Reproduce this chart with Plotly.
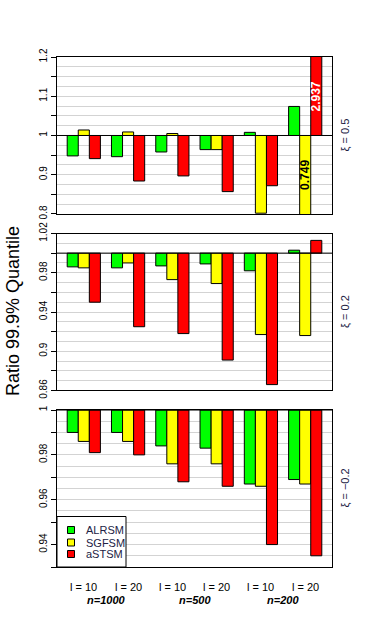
import plotly.graph_objects as go

# ---------------- data ----------------
n_labels = ["n=1000", "n=500", "n=200"]
l_labels = ["l = 10", "l = 20", "l = 10", "l = 20", "l = 10", "l = 20"]
methods = ["ALRSM", "SGFSM", "aSTSM"]
colors = ["#00FF00", "#FFFF00", "#FF0000"]

alrsm_05 = [0.948, 0.946, 0.958, 0.964, 1.008, 1.074]
sgfsm_05 = [1.014, 1.009, 1.005, 0.964, 0.802, 0.749]
astsm_05 = [0.941, 0.884, 0.897, 0.857, 0.872, 2.937]

alrsm_02 = [0.986, 0.985, 0.987, 0.989, 0.982, 1.003]
sgfsm_02 = [0.985, 0.990, 0.973, 0.969, 0.917, 0.916]
astsm_02 = [0.950, 0.925, 0.918, 0.891, 0.866, 1.013]

alrsm_m02 = [0.990, 0.990, 0.984, 0.983, 0.967, 0.969]
sgfsm_m02 = [0.986, 0.986, 0.976, 0.976, 0.966, 0.967]
astsm_m02 = [0.981, 0.980, 0.968, 0.966, 0.940, 0.935]

xi_labels = ["ξ = 0.5", "ξ = 0.2", "ξ = −0.2"]

# y ticks per panel
ticks_05 = [0.8, 0.85, 0.9, 0.95, 1.0, 1.05, 1.1, 1.15, 1.2]
ticktext_05 = ["0.8", "", "0.9", "", "1", "", "1.1", "", "1.2"]
ticks_02 = [0.86, 0.88, 0.9, 0.92, 0.94, 0.96, 0.98, 1.0, 1.02]
ticktext_02 = ["0.86", "", "0.9", "", "0.94", "", "0.98", "", "1.02"]
ticks_m02 = [0.93, 0.94, 0.95, 0.96, 0.97, 0.98, 0.99, 1.0]
ticktext_m02 = ["", "0.94", "", "0.96", "", "0.98", "", "1"]

panels = [
    dict(vals=[alrsm_05, sgfsm_05, astsm_05], rng=[0.8, 1.2], tv=ticks_05, tt=ticktext_05, minor=0.025, dom=[0.6922, 1.0]),
    dict(vals=[alrsm_02, sgfsm_02, astsm_02], rng=[0.86, 1.02], tv=ticks_02, tt=ticktext_02, minor=0.01, dom=[0.3461, 0.6539]),
    dict(vals=[alrsm_m02, sgfsm_m02, astsm_m02], rng=[0.93, 1.0], tv=ticks_m02, tt=ticktext_m02, minor=0.005, dom=[0.0, 0.3078]),
]

BASE = 1.0
xs = list(range(len(l_labels)))

W, H = 380, 625
ML, MR, MT, MB = 57, 48, 57, 58
PW, PH = W - ML - MR, H - MT - MB

def px(xp):  # page x pixel -> paper fraction
    return (xp - ML) / PW

def py(yp):  # page y pixel -> paper fraction
    return (H - MB - yp) / PH

fig = go.Figure()
layout = {}
annotations = []
shapes = []
FONT = "Liberation Sans, Arial, sans-serif"

for p, panel in enumerate(panels):
    sfx = "" if p == 0 else str(p + 1)
    xref = "x" + sfx
    yref = "y" + sfx
    for m, (name, col, vals) in enumerate(zip(methods, colors, panel["vals"])):
        fig.add_trace(go.Bar(
            x=xs, y=[v - BASE for v in vals], base=BASE,
            name=name, marker=dict(color=col, line=dict(color="black", width=1)),
            showlegend=False, legendgroup=name,
            xaxis=xref, yaxis=yref, offsetgroup=str(m),
        ))
    layout["xaxis" + sfx] = dict(
        domain=[0, 1], range=[-0.605, 5.605], anchor=yref,
        showgrid=False, zeroline=False, showticklabels=False, ticks="",
        showline=True, mirror=True, linecolor="black", linewidth=1,
    )
    layout["yaxis" + sfx] = dict(
        domain=panel["dom"], range=panel["rng"], anchor=xref,
        tickmode="array", tickvals=panel["tv"], ticktext=panel["tt"],
        tickangle=-90, ticks="outside", ticklen=5, tickcolor="black",
        tickfont=dict(size=10, color="black", family=FONT),
        showgrid=True, gridcolor="#d3d3d3", gridwidth=1,
        minor=dict(dtick=panel["minor"], tick0=panel["rng"][0], showgrid=True, gridcolor="#d3d3d3", ticks=""),
        zeroline=False,
        showline=True, mirror=True, linecolor="black", linewidth=1,
    )
    shapes.append(dict(type="line", xref=xref + " domain", yref=yref, x0=0, x1=1, y0=BASE, y1=BASE,
                       line=dict(color="black", width=1), layer="above"))
    annotations.append(dict(
        text=xi_labels[p], xref="paper", yref=yref + " domain", x=1, y=0.5,
        xanchor="center", yanchor="middle", xshift=13, textangle=-90, showarrow=False,
        font=dict(size=11, color="#222244", family=FONT),
    ))

# value labels for clipped bars in top panel
annotations.append(dict(
    text="<b>%.3f</b>" % astsm_05[5], xref="x", yref="y", x=xs[5] + 0.25, y=1.1,
    textangle=-90, showarrow=False, font=dict(size=12, color="white", family=FONT),
))
annotations.append(dict(
    text="<b>%.3f</b>" % sgfsm_05[5], xref="x", yref="y", x=xs[5], y=0.9,
    textangle=-90, showarrow=False, font=dict(size=12, color="black", family=FONT),
))

# x labels under bottom panel
for i, lab in enumerate(l_labels):
    annotations.append(dict(
        text=lab, xref="x3", yref="paper", x=xs[i], y=0, yshift=-20,
        xanchor="center", yanchor="middle", showarrow=False,
        font=dict(size=11, color="black", family=FONT),
    ))
for j, lab in enumerate(n_labels):
    annotations.append(dict(
        text="<b><i>%s</i></b>" % lab, xref="x3", yref="paper", x=2 * j + 0.5, y=0, yshift=-33,
        xanchor="center", yanchor="middle", showarrow=False,
        font=dict(size=11, color="black", family=FONT),
    ))

# y title
annotations.append(dict(
    text="Ratio 99.9% Quantile", xref="paper", yref="paper", x=0, y=py(311), xshift=-44,
    xanchor="center", yanchor="middle", textangle=-90, showarrow=False,
    font=dict(size=18, color="black", family=FONT),
))

# legend box (bottom-left of the lowest panel)
shapes.append(dict(type="rect", xref="paper", yref="paper",
                   x0=px(57), x1=px(126), y0=py(567), y1=py(516.5),
                   fillcolor="white", line=dict(color="black", width=1), layer="above"))
row_y = [530, 542.5, 554]
for name, col, ry in zip(methods, colors, row_y):
    shapes.append(dict(type="rect", xref="paper", yref="paper",
                       x0=px(67.5), x1=px(74.5), y0=py(ry + 3.5), y1=py(ry - 3.5),
                       fillcolor=col, line=dict(color="black", width=1), layer="above"))
    annotations.append(dict(
        text=name, xref="paper", yref="paper", x=px(84), y=py(ry),
        xanchor="left", yanchor="middle", showarrow=False,
        font=dict(size=11, color="#222244", family=FONT),
    ))

fig.update_layout(
    **layout,
    width=W, height=H,
    margin=dict(l=ML, r=MR, t=MT, b=MB),
    paper_bgcolor="white", plot_bgcolor="white",
    barmode="group", bargap=0.25, bargroupgap=0,
    showlegend=False,
    annotations=annotations, shapes=shapes,
    font=dict(family=FONT),
)

fig.write_html("out.html", config={"displayModeBar": False},
               post_script="document.body.style.margin='0px';")
